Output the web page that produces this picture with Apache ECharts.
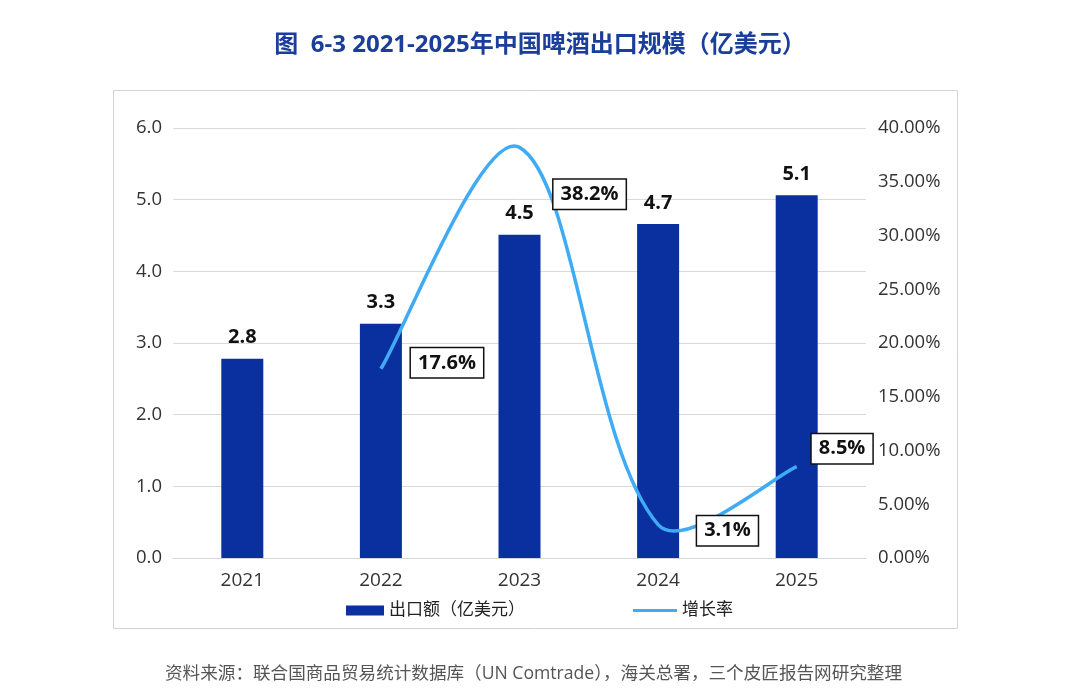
<!DOCTYPE html>
<html>
<head>
<meta charset="utf-8">
<title>2021-2025年中国啤酒出口规模</title>
<script src="https://cdn.jsdelivr.net/npm/echarts@6/dist/echarts.min.js"></script>
<style>
  html, body { margin: 0; padding: 0; background: #fff; }
  #chart { width: 1080px; height: 698px; }
</style>
</head>
<body>
<div id="chart"></div>
<script>
// data
const years = ['2021', '2022', '2023', '2024', '2025'];
const exportValue = [2.78, 3.27, 4.51, 4.66, 5.06];   // 亿美元
const growthRate = ['-', 17.6, 38.2, 3.1, 8.5];       // %
const leftTicks = { min: 0, max: 6, interval: 1 };
const rightTicks = { min: 0, max: 40, interval: 5 };

// where each growth label box sits relative to its point
const growthLabelOffsets = [[0, 0], [30, -6], [34, 47], [39, 6], [15, -18]];

const FONT = '"Open Sans", "Noto Sans CJK SC", sans-serif';
const LINE_COLOR = '#40abf5';
const chart = echarts.init(document.getElementById('chart'));

// office-style smoothed curve through the projected points
function smoothPath(pts) {
  const dist = (a, b) => Math.hypot(b[0] - a[0], b[1] - a[1]);
  const ctrl = pts.map((p, i) => {
    const prev = pts[i - 1] || p;
    const next = pts[i + 1] || p;
    const d0 = dist(prev, p), d1 = dist(p, next);
    const dir = [next[0] - prev[0], next[1] - prev[1]];
    let fa = d0 / (d0 + d1) / 3, fb = d1 / (d0 + d1) / 3;
    if (i === 0) fb = 1 / 6;
    if (i === pts.length - 1) fa = 1 / 6;
    return {
      in: [p[0] - fa * dir[0], p[1] - fa * dir[1]],
      out: [p[0] + fb * dir[0], p[1] + fb * dir[1]]
    };
  });
  let d = 'M' + pts[0][0] + ' ' + pts[0][1];
  for (let i = 1; i < pts.length; i++) {
    const a = ctrl[i - 1].out, b = ctrl[i].in, p = pts[i];
    d += ' C' + a.join(' ') + ' ' + b.join(' ') + ' ' + p.join(' ');
  }
  return d;
}

chart.setOption({
  backgroundColor: '#fff',
  textStyle: { fontFamily: FONT },
  title: {
    text: '图  6-3 2021-2025年中国啤酒出口规模（亿美元）',
    left: 'center',
    top: 28,
    textStyle: { color: '#1a3e9a', fontSize: 24, fontWeight: 'bold', fontFamily: FONT }
  },
  graphic: [
    {
      type: 'rect',
      shape: { x: 113.5, y: 90.5, width: 844, height: 538 },
      style: { fill: 'none', stroke: '#d3d3d3', lineWidth: 1 },
      z: -1
    },
    {
      type: 'text',
      left: 165,
      top: 665,
      style: {
        text: '资料来源：联合国商品贸易统计数据库（UN Comtrade），海关总署，三个皮匠报告网研究整理',
        fill: '#555',
        font: '17.6px ' + FONT
      }
    }
  ],
  legend: [
    {
      left: 341,
      top: 597,
      data: ['出口额（亿美元）'],
      icon: 'rect',
      itemWidth: 38,
      itemHeight: 10,
      textStyle: { fontSize: 17, color: '#222', fontFamily: FONT }
    },
    {
      left: 628,
      top: 597,
      data: ['增长率'],
      icon: 'rect',
      itemWidth: 44,
      itemHeight: 3,
      textStyle: { fontSize: 17, color: '#222', fontFamily: FONT }
    }
  ],
  grid: { left: 173, right: 214, top: 128, bottom: 140 },
  xAxis: {
    type: 'category',
    data: years,
    axisTick: { show: false },
    axisLine: { lineStyle: { color: '#d6d6d6' } },
    axisLabel: { fontSize: 19, color: '#333', margin: 13, fontFamily: FONT }
  },
  yAxis: [
    {
      type: 'value',
      min: leftTicks.min,
      max: leftTicks.max,
      interval: leftTicks.interval,
      axisLine: { show: false },
      axisTick: { show: false },
      splitLine: { lineStyle: { color: '#d9d9d9' } },
      axisLabel: {
        fontSize: 18.5, color: '#333', margin: 11, fontFamily: FONT,
        formatter: v => v.toFixed(1)
      }
    },
    {
      type: 'value',
      min: rightTicks.min,
      max: rightTicks.max,
      interval: rightTicks.interval,
      axisLine: { show: false },
      axisTick: { show: false },
      splitLine: { show: false },
      axisLabel: {
        fontSize: 18.5, color: '#333', margin: 12, fontFamily: FONT,
        formatter: v => v.toFixed(2) + '%'
      }
    }
  ],
  series: [
    {
      name: '出口额（亿美元）',
      type: 'bar',
      data: exportValue,
      barWidth: 42,
      itemStyle: { color: '#0a2f9f' },
      label: {
        show: true,
        position: 'top',
        distance: 11,
        fontSize: 20,
        fontWeight: 'bold',
        color: '#111',
        fontFamily: FONT,
        formatter: p => p.value.toFixed(1)
      }
    },
    {
      // the smoothed curve itself, drawn through the axis scales
      type: 'custom',
      yAxisIndex: 1,
      data: years.map((y, i) => [i]),
      silent: true,
      z: 3,
      renderItem: (params, api) => {
        if (params.dataIndex !== 0) return null;
        const pts = [];
        growthRate.forEach((v, i) => {
          if (v !== '-') pts.push(api.coord([i, v]));
        });
        return {
          type: 'path',
          shape: { pathData: smoothPath(pts) },
          style: { fill: 'none', stroke: LINE_COLOR, lineWidth: 3.5 }
        };
      }
    },
    {
      name: '增长率',
      type: 'line',
      yAxisIndex: 1,
      showSymbol: true,
      symbol: 'circle',
      symbolSize: 0.1,
      lineStyle: { width: 0, opacity: 0 },
      itemStyle: { color: LINE_COLOR },
      data: growthRate,
      label: {
        show: true,
        position: 'right',
        distance: 0,
        fontSize: 20,
        fontWeight: 'bold',
        color: '#111',
        fontFamily: FONT,
        backgroundColor: '#fff',
        borderColor: '#111',
        borderWidth: 1.5,
        padding: [5, 7, 4, 7],
        formatter: p => p.value.toFixed(1) + '%'
      },
      labelLayout: p => ({
        dx: growthLabelOffsets[p.dataIndex][0],
        dy: growthLabelOffsets[p.dataIndex][1],
        hideOverlap: false
      }),
      z: 4
    }
  ]
});
</script>
</body>
</html>
